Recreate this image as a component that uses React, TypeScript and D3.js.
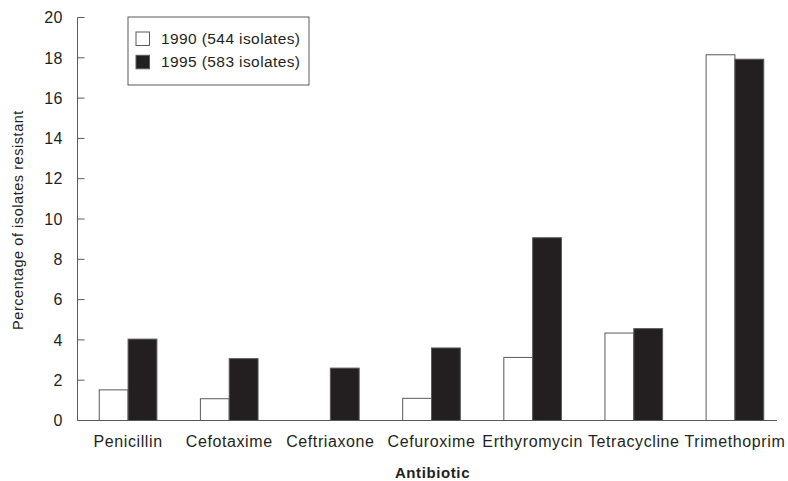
import React from "react";
import { scaleBand, scaleLinear } from "d3";

const width = 788;
const height = 481;
const margin = { top: 17.5, right: 2.5, bottom: 60.5, left: 77.5 };
const axisEnd = 777;
const tickLen = 7;
const ink = "#231f20";
const stroke = "#5a5a5a";
const font = "'Liberation Sans', Arial, Helvetica, sans-serif";

// label spelling kept as printed in the source figure
const antibiotics = [
  "Penicillin",
  "Cefotaxime",
  "Ceftriaxone",
  "Cefuroxime",
  "Erthyromycin",
  "Tetracycline",
  "Trimethoprim",
];
const years = ["1990", "1995"];
const legendLabels = ["1990 (544 isolates)", "1995 (583 isolates)"];
const values1990 = [1.52, 1.08, 0, 1.1, 3.13, 4.34, 18.15];
const values1995 = [4.04, 3.07, 2.6, 3.6, 9.07, 4.56, 17.93];
const yTicks = [0, 2, 4, 6, 8, 10, 12, 14, 16, 18, 20];
const fills = ["#ffffff", ink];

export default function App() {
  const x = scaleBand<string>()
    .domain(antibiotics)
    .range([margin.left, width - margin.right])
    .paddingInner(0.43)
    .paddingOuter(0.215);
  const xYear = scaleBand<string>()
    .domain(years)
    .range([0, x.bandwidth()]);
  const y = scaleLinear()
    .domain([0, 20])
    .range([height - margin.bottom, margin.top]);

  const series = [values1990, values1995];
  const y0 = y(0);

  return (
    <svg
      width={width}
      height={height}
      style={{ position: "absolute", left: 0, top: 0 }}
      fontFamily={font}
    >
      <rect width={width} height={height} fill="#fff" />

      {/* bars */}
      {antibiotics.map((name, i) => (
        <g key={name} transform={`translate(${x(name)},0)`}>
          {years.map((yr, s) => {
            const v = series[s][i];
            if (!v) return null;
            return (
              <rect
                key={yr}
                x={xYear(yr)}
                y={y(v)}
                width={xYear.bandwidth()}
                height={y0 - y(v)}
                fill={fills[s]}
                stroke={stroke}
                strokeWidth={1}
              />
            );
          })}
          <text
            x={x.bandwidth() / 2}
            y={447}
            textAnchor="middle"
            fontSize={16}
            letterSpacing={0.6}
            fill={ink}
          >
            {name}
          </text>
        </g>
      ))}

      {/* axes */}
      <line
        x1={margin.left}
        x2={margin.left}
        y1={y(20)}
        y2={y0}
        stroke={stroke}
        strokeWidth={1}
      />
      <line
        x1={margin.left}
        x2={axisEnd}
        y1={y0}
        y2={y0}
        stroke={stroke}
        strokeWidth={1}
      />
      {yTicks.map((t) => (
        <g key={t} transform={`translate(${margin.left},${y(t)})`}>
          <line x2={tickLen} stroke={stroke} strokeWidth={1} />
          <text
            x={-15}
            dy="0.36em"
            textAnchor="end"
            fontSize={16}
            letterSpacing={0.2}
            fill={ink}
          >
            {t}
          </text>
        </g>
      ))}

      <text
        transform={`translate(23,${(y(20) + y0) / 2 + 1}) rotate(-90)`}
        textAnchor="middle"
        fontSize={14.5}
        letterSpacing={0.55}
        fill={ink}
      >
        Percentage of isolates resistant
      </text>
      <text
        x={432.5}
        y={478}
        textAnchor="middle"
        fontSize={15}
        fontWeight="bold"
        letterSpacing={0.6}
        fill={ink}
      >
        Antibiotic
      </text>

      {/* legend */}
      <rect
        x={128}
        y={17}
        width={181}
        height={68}
        fill="#fff"
        stroke={stroke}
        strokeWidth={1}
      />
      {legendLabels.map((label, i) => (
        <g key={label} transform={`translate(136,${32 + i * 23.3})`}>
          <rect
            width={13.5}
            height={13.5}
            fill={fills[i]}
            stroke={stroke}
            strokeWidth={1}
          />
          <text
            x={25}
            y={12}
            fontSize={15.5}
            letterSpacing={0.4}
            fill={ink}
          >
            {label}
          </text>
        </g>
      ))}
    </svg>
  );
}
